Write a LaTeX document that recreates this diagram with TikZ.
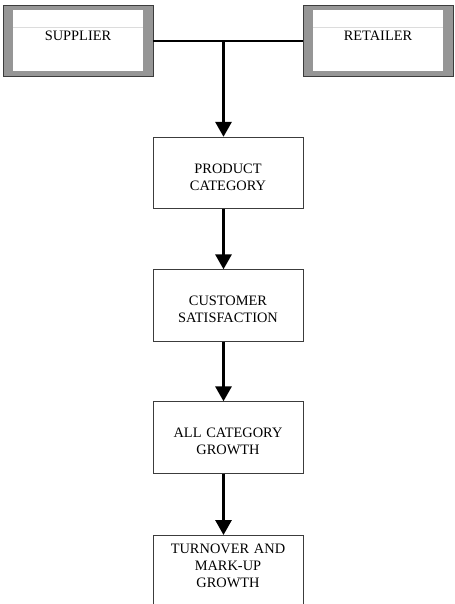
\documentclass[tikz,border=0pt]{standalone}
\usepackage{fontspec}
\setmainfont{Liberation Serif}
\usepackage{tikz}
\usetikzlibrary{arrows.meta,positioning,calc}
\definecolor{grisCadre}{RGB}{150,150,150}
\definecolor{grisLigne}{RGB}{220,220,220}
\definecolor{bordBoite}{RGB}{60,60,60}

\begin{document}
\begin{tikzpicture}[x=0.75pt,y=-0.75pt,
  font=\fontsize{10.8}{12.75}\selectfont,
  acteur/.style={rectangle,minimum width=112.5pt,minimum height=53.25pt,inner sep=0pt,
                 draw=bordBoite,fill=grisCadre,text depth=6.8pt,
                 path picture={
                   \fill[white] ([shift={(7.5pt,3.75pt)}]path picture bounding box.south west)
                     rectangle ([shift={(-7.5pt,-3.75pt)}]path picture bounding box.north east);
                   \draw[grisLigne,line width=0.5pt]
                     ([shift={(7.5pt,-16.5pt)}]path picture bounding box.north west)
                     -- ([shift={(-7.5pt,-16.5pt)}]path picture bounding box.north east);}},
  boite/.style={rectangle,minimum width=112.5pt,minimum height=53.5pt,draw=bordBoite,
                line width=0.75pt,fill=white,text width=105pt,align=center,text height=13pt},
  trait/.style={line width=1.5pt,black},
  fleche/.style={line width=2.25pt,black,-{Triangle[length=11.25pt,width=12pt]}}]
  \useasboundingbox (0,0) rectangle (454,604);
  \clip (0,0) rectangle (454,604);

  \node[acteur] (supplier) at (78,40.5) {SUPPLIER};
  \node[acteur] (retailer) at (378,40.5) {RETAILER};

  \node[boite] (product) at (228,173) {PRODUCT\\CATEGORY};
  \node[boite] (customer) at (228,305.5) {CUSTOMER\\SATISFACTION};
  \node[boite] (growth) at (228,437.5) {ALL CATEGORY\\GROWTH};
  \node[boite,anchor=north,minimum height=0pt,inner ysep=4pt,text height=9.3pt,
        text depth=52pt] (turnover) at (228,535) {TURNOVER AND\\MARK-UP\\GROWTH};

  \coordinate (axe) at (223.5,0);

  \draw[trait] (supplier.east) -- (retailer.west);
  \draw[fleche] (supplier.east -| axe) -- (product.north -| axe);
  \draw[fleche] (product.south -| axe) -- (customer.north -| axe);
  \draw[fleche] (customer.south -| axe) -- (growth.north -| axe);
  \draw[fleche] (growth.south -| axe) -- (turnover.north -| axe);
\end{tikzpicture}
\end{document}
